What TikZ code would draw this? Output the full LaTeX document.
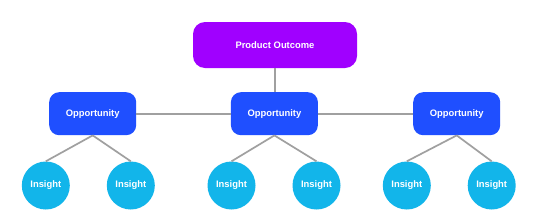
\documentclass[tikz,border=0pt]{standalone}
\usepackage{fontspec}
\setmainfont{Liberation Sans}
\definecolor{outc}{HTML}{A000FF}
\definecolor{oppc}{HTML}{1F4FFF}
\definecolor{insc}{HTML}{12B5EA}
\definecolor{linec}{HTML}{A0A0A0}
\begin{document}
\begin{tikzpicture}[x=1bp,y=-1bp,
  lbl/.style={text=white,font=\fontsize{9.4bp}{11bp}\selectfont\bfseries},
  outbox/.style={lbl,draw=none,fill=outc,rounded corners=12bp,minimum width=164bp,minimum height=46bp,inner sep=0pt},
  oppbox/.style={lbl,draw=none,fill=oppc,rounded corners=10bp,minimum width=87bp,minimum height=43bp,inner sep=0pt},
  insbox/.style={lbl,circle,draw=none,fill=insc,minimum size=48bp,inner sep=0pt},
  conn/.style={draw=linec,line width=1.7bp}]
\useasboundingbox (0,0) rectangle (550,220);
\fill[white] (0,0) rectangle (550,220);
\node[outbox] (po) at (275,45) {Product Outcome};
\node[oppbox] (o1) at (92.7,113.7) {Opportunity};
\node[oppbox] (o2) at (274.4,113.7) {Opportunity};
\node[oppbox] (o3) at (456.7,113.7) {Opportunity};
\node[insbox] (i1) at (45.8,185.5) {Insight};
\node[insbox] (i2) at (130.8,185.5) {Insight};
\node[insbox] (i3) at (231.5,185.5) {Insight};
\node[insbox] (i4) at (316.5,185.5) {Insight};
\node[insbox] (i5) at (406.8,185.5) {Insight};
\node[insbox] (i6) at (491.7,185.5) {Insight};
\draw[conn] (po.south) -- (po.south |- o2.north);
\draw[conn] (o1.east) -- (o2.west);
\draw[conn] (o2.east) -- (o3.west);
\draw[conn] (o1.south) -- (i1.north);
\draw[conn] (o1.south) -- (i2.north);
\draw[conn] (o2.south) -- (i3.north);
\draw[conn] (o2.south) -- (i4.north);
\draw[conn] (o3.south) -- (i5.north);
\draw[conn] (o3.south) -- (i6.north);
\end{tikzpicture}
\end{document}
